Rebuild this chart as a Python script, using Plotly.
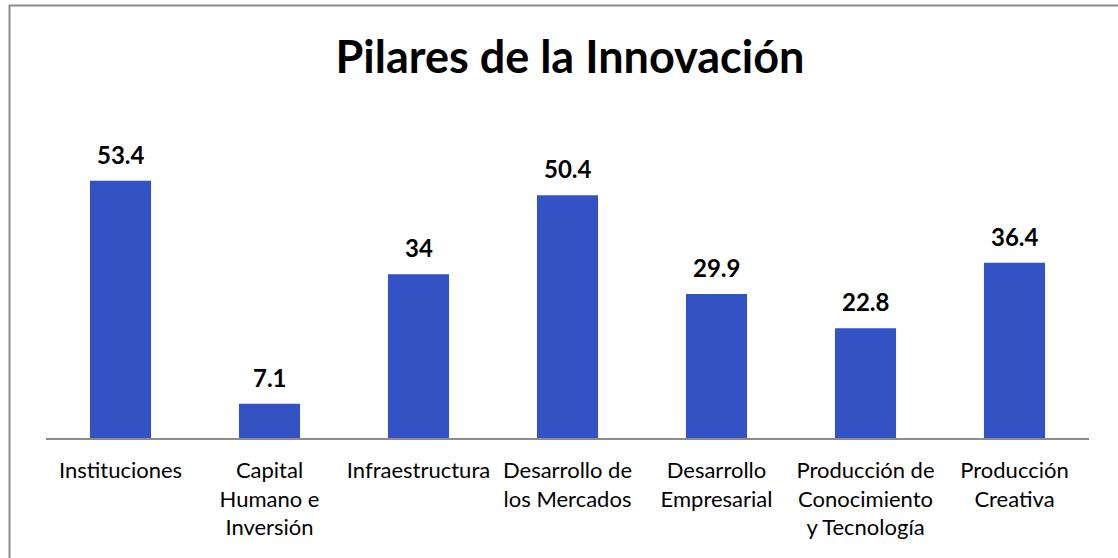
import plotly.graph_objects as go

# data
pilares = [
    "Instituciones",
    "Capital<br>Humano e<br>Inversión",
    "Infraestructura",
    "Desarrollo de<br>los Mercados",
    "Desarrollo<br>Empresarial",
    "Producción de<br>Conocimiento<br>y Tecnología",
    "Producción<br>Creativa",
]
puntajes = [53.4, 7.1, 34, 50.4, 29.9, 22.8, 36.4]
etiquetas = ["53.4", "7.1", "34", "50.4", "29.9", "22.8", "36.4"]

W, H = 1118, 558
# plot area in pixels
L, R, T, B = 46, 1089, 149, 438

FONT = "Lato, 'Open Sans', sans-serif"

fig = go.Figure()
fig.add_bar(
    x=pilares,
    y=puntajes,
    marker=dict(color="#3352C4", line=dict(width=0)),
    hoverinfo="skip",
)

for cat, val, txt in zip(pilares, puntajes, etiquetas):
    fig.add_annotation(
        x=cat, y=val, text=f"<b>{txt}</b>", showarrow=False,
        yanchor="bottom", yshift=10,
        font=dict(family=FONT, size=24, color="black"),
    )


def px_x(p):
    return (p - L) / (R - L)


def px_y(p):
    return (B - p) / (B - T)


# outer grey frame (the chart border, cut by the picture edge)
fig.add_shape(
    type="rect", xref="paper", yref="paper",
    x0=px_x(9.5), x1=px_x(1140), y0=px_y(5.5), y1=px_y(600),
    line=dict(color="#8C8C8C", width=2), layer="below",
)

fig.update_layout(
    width=W, height=H,
    margin=dict(l=L, r=W - R, t=T, b=H - B, pad=0),
    paper_bgcolor="white", plot_bgcolor="white",
    bargap=0.59,
    showlegend=False,
    title=dict(
        text="<b>Pilares de la Innovación</b>",
        x=570 / W, xanchor="center",
        y=1 - 57 / H, yanchor="middle", yref="container",
        font=dict(family=FONT, size=45, color="black"),
    ),
    font=dict(family=FONT, color="black"),
)
fig.update_xaxes(
    showline=True, linecolor="#8C8C8C", linewidth=1.5,
    ticks="", showgrid=False,
    tickfont=dict(family=FONT, size=22, color="black"),
    tickangle=0, ticklabelstandoff=12,
)
fig.update_yaxes(
    range=[0, 60], visible=False, showgrid=False, zeroline=False,
)

# drop the browser's default body margin so the figure sits at the page corner
fig.write_html(
    "out.html",
    config={"displayModeBar": False},
    post_script="document.body.style.margin='0';",
)
